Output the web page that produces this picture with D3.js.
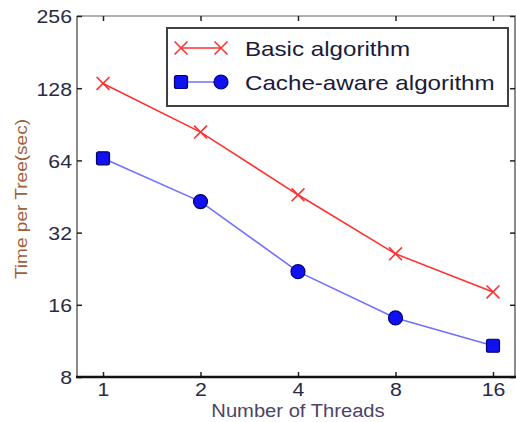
<!DOCTYPE html>
<html><head><meta charset="utf-8">
<script src="https://cdn.jsdelivr.net/npm/d3@7"></script>
<style>
html,body{margin:0;padding:0;background:#fff;}
svg{display:block;font-family:"Liberation Sans",Arial,sans-serif;}
</style></head>
<body>
<svg id="c" width="516" height="422"></svg>
<script>
const threads = [1, 2, 4, 8, 16];
const basic = [134, 84, 46, 26.1, 18.1];
const cacheAware = [65.3, 43.1, 22.0, 14.1, 10.8];
const cacheShapes = ["square", "circle", "circle", "circle", "square"];
const yTicks = [8, 16, 32, 64, 128, 256];
const seriesNames = ["Basic algorithm", "Cache-aware algorithm"];

const svg = d3.select("#c");
const L = 77, T = 16, R = 516, B = 377;
const x = d3.scaleLog().base(2).domain([1, 16]).range([103, 493]);
const y = d3.scaleLog().base(2).domain([8, 256]).range([B, T]);

function stretch(sel, k) {
  sel.each(function () {
    const w = this.getComputedTextLength();
    d3.select(this).attr("textLength", w * k).attr("lengthAdjust", "spacingAndGlyphs");
  });
}

// frame
svg.append("line").attr("x1", L).attr("x2", L).attr("y1", T).attr("y2", B)
  .attr("stroke", "#8a8a8a").attr("stroke-width", 2);
svg.append("line").attr("x1", L).attr("x2", R).attr("y1", T).attr("y2", T)
  .attr("stroke", "#b0b0b0").attr("stroke-width", 2);
svg.append("line").attr("x1", R - 1).attr("x2", R - 1).attr("y1", T).attr("y2", B)
  .attr("stroke", "#8a8a8a").attr("stroke-width", 2);

// axes
const tickFont = "19px";
const tickColor = "#2a2a48";
const yAxis = d3.axisLeft(y).tickValues(yTicks).tickFormat(d3.format("d")).tickSize(-5).tickPadding(5);
const gy = svg.append("g").attr("transform", `translate(${L},0)`).call(yAxis);
gy.select(".domain").remove();
gy.selectAll("text").style("font-size", tickFont).attr("fill", tickColor).attr("dy", "0.36em");
gy.selectAll("line").attr("stroke", "#222").attr("stroke-width", 1.5);
stretch(gy.selectAll("text"), 1.12);

const yAxisR = d3.axisRight(y).tickValues(yTicks).tickFormat("").tickSize(-5);
const gyr = svg.append("g").attr("transform", `translate(${R - 1},0)`).call(yAxisR);
gyr.select(".domain").remove();
gyr.selectAll("line").attr("stroke", "#222").attr("stroke-width", 1.5);

const xAxis = d3.axisBottom(x).tickValues(threads).tickFormat(d3.format("d")).tickSize(-5).tickPadding(6);
const gx = svg.append("g").attr("transform", `translate(0,${B})`).call(xAxis);
gx.select(".domain").remove();
gx.selectAll("text").style("font-size", tickFont).attr("fill", tickColor);
gx.selectAll("line").attr("stroke", "#222").attr("stroke-width", 1.5);
stretch(gx.selectAll("text"), 1.12);

const xAxisT = d3.axisTop(x).tickValues(threads).tickFormat("").tickSize(-5);
const gxt = svg.append("g").attr("transform", `translate(0,${T})`).call(xAxisT);
gxt.select(".domain").remove();
gxt.selectAll("line").attr("stroke", "#222").attr("stroke-width", 1.5);

svg.append("line").attr("x1", L - 1).attr("x2", R).attr("y1", B).attr("y2", B)
  .attr("stroke", "#111").attr("stroke-width", 2.5);

// labels
const xl = svg.append("text").attr("x", 298).attr("y", 417).attr("text-anchor", "middle")
  .style("font-size", "18px").attr("fill", "#4d4468").text("Number of Threads");
stretch(xl, 1.12);
const yl = svg.append("text").attr("transform", "translate(27,199) rotate(-90)").attr("text-anchor", "middle")
  .style("font-size", "17px").attr("fill", "#a0603a").text("Time per Tree(sec)");
stretch(yl, 1.12);

// lines
const redC = "#ff3030", blueLine = "#7070ff", blueFill = "#1010f0", blueStroke = "#000070";
const line = d3.line().x((d, i) => x(threads[i])).y(d => y(d));
svg.append("path").datum(basic).attr("d", line).attr("fill", "none")
  .attr("stroke", redC).attr("stroke-width", 1.6);
svg.append("path").datum(cacheAware).attr("d", line).attr("fill", "none")
  .attr("stroke", blueLine).attr("stroke-width", 1.6);

const xMark = d3.symbol().type(d3.symbolX).size(110);
function drawX(g, cx, cy) {
  g.append("path").attr("d", xMark()).attr("transform", `translate(${cx},${cy})`)
    .attr("fill", "none").attr("stroke", redC).attr("stroke-width", 1.6);
}
function drawBlue(g, cx, cy, shape) {
  if (shape === "square") {
    g.append("rect").attr("x", cx - 6.5).attr("y", cy - 6.5).attr("width", 13).attr("height", 13)
      .attr("rx", 2).attr("fill", blueFill).attr("stroke", blueStroke).attr("stroke-width", 1.2);
  } else {
    g.append("circle").attr("cx", cx).attr("cy", cy).attr("r", 7)
      .attr("fill", blueFill).attr("stroke", blueStroke).attr("stroke-width", 1.2);
  }
}
basic.forEach((v, i) => drawX(svg, x(threads[i]), y(v)));
cacheAware.forEach((v, i) => drawBlue(svg, x(threads[i]), y(v), cacheShapes[i]));

// legend
const lg = svg.append("g");
lg.append("rect").attr("x", 167).attr("y", 28).attr("width", 341).attr("height", 78)
  .attr("fill", "#fff").attr("stroke", "#404040").attr("stroke-width", 2);
const rows = [48, 82];
lg.append("line").attr("x1", 181).attr("x2", 221).attr("y1", rows[0]).attr("y2", rows[0])
  .attr("stroke", redC).attr("stroke-width", 1.6);
drawX(lg, 181, rows[0]); drawX(lg, 221, rows[0]);
lg.append("line").attr("x1", 181).attr("x2", 221).attr("y1", rows[1]).attr("y2", rows[1])
  .attr("stroke", blueLine).attr("stroke-width", 1.6);
drawBlue(lg, 181, rows[1], "square"); drawBlue(lg, 221, rows[1], "circle");
const lt = lg.selectAll("text.leg").data(seriesNames).join("text").attr("class", "leg")
  .attr("x", 245).attr("y", (d, i) => rows[i]).attr("dy", "0.36em")
  .style("font-size", "21px").attr("fill", "#1a1a3a").text(d => d);
stretch(lt, 1.15);
</script>
</body></html>
